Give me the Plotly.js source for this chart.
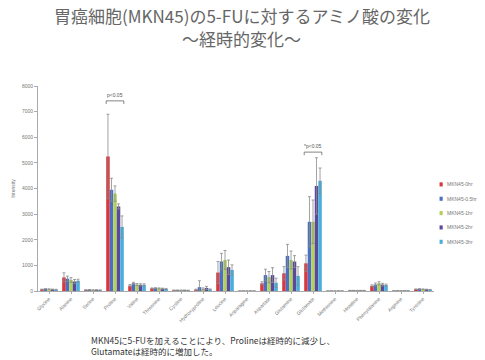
<!DOCTYPE html>
<html>
<head>
<meta charset="utf-8">
<script src="https://cdn.plot.ly/plotly-3.0.1.min.js"></script>
<style>html,body{margin:0;padding:0;background:#fff;}#chart{width:485px;height:360px;}</style>
</head>
<body>
<div id="chart"></div>
<script>
const categories = ["Glycine","Alanine","Serine","Proline","Valine","Threonine","Cystine","Hydroxyproline","Leucine","Asparagine","Aspartate","Glutamine","Glutamate","Methionine","Histidine","Phenylalanine","Arginine","Tyrosine"];
const seriesNames = ["MKN45-0hr","MKN45-0.5hr","MKN45-1hr","MKN45-2hr","MKN45-3hr"];
const hr0   = [60, 530, 40, 5250, 210, 100, 30, 50, 720, 5, 300, 690, 1080, 5, 20, 200, 10, 70];
const hr05  = [80, 480, 45, 3950, 300, 110, 30, 150, 1150, 5, 620, 1370, 2700, 5, 20, 250, 10, 80];
const hr1   = [70, 430, 40, 3800, 250, 100, 30, 80, 1210, 5, 540, 1210, 2700, 5, 20, 300, 10, 70];
const hr2   = [60, 370, 40, 3300, 240, 90, 30, 120, 930, 5, 620, 1150, 4100, 5, 20, 250, 10, 60];
const hr3   = [50, 400, 35, 2500, 240, 80, 25, 60, 820, 5, 320, 590, 4300, 5, 20, 230, 10, 50];
const err0  = [15, 180, 10, 1650, 40, 20, 5, 20, 430, 2, 60, 260, 320, 2, 5, 40, 3, 10];
const err05 = [15, 100, 10, 450, 40, 20, 5, 250, 320, 2, 230, 450, 980, 2, 5, 60, 3, 10];
const err1  = [15, 90, 10, 300, 40, 20, 5, 40, 370, 2, 220, 350, 850, 2, 5, 60, 3, 10];
const err2  = [15, 80, 10, 100, 40, 20, 5, 60, 280, 2, 290, 230, 1100, 2, 5, 50, 3, 10];
const err3  = [15, 60, 10, 430, 40, 20, 5, 20, 200, 2, 180, 360, 500, 2, 5, 40, 3, 10];
const yTicks = [0,1000,2000,3000,4000,5000,6000,7000,8000];

const colors = ["#d8383c","#4a6fc4","#b3d05a","#5a4a9c","#49aedc"];
const vals = [hr0, hr05, hr1, hr2, hr3];
const errs = [err0, err05, err1, err2, err3];

const traces = vals.map((v,i)=>({
  type:'bar', name:seriesNames[i], x:categories, y:v, showlegend:false,
  marker:{color:colors[i]},
  error_y:{type:'data', array:errs[i], visible:true, color:'#8a8a8a', thickness:0.8, width:1.5}
}));

const gray = '#777';
// custom compact legend (paper coordinates)
const legX = 1.014, legTop = 0.52, legStep = 0.07;
const legendShapes = seriesNames.map((n,i)=>({
  type:'rect', xref:'paper', yref:'paper',
  x0:legX, x1:legX+0.008, y0:legTop-i*legStep-0.01, y1:legTop-i*legStep+0.01,
  fillcolor:colors[i], line:{width:0}
}));
const legendTexts = seriesNames.map((n,i)=>({
  xref:'paper', yref:'paper', x:legX+0.014, y:legTop-i*legStep, xanchor:'left', yanchor:'middle',
  text:n, showarrow:false, font:{size:5, color:gray}
}));

const layout = {
  width:485, height:360,
  margin:{l:38, r:51, t:86, b:69},
  paper_bgcolor:'#fff', plot_bgcolor:'#fff',
  font:{family:'Liberation Sans, Arial, sans-serif', size:5, color:gray},
  barmode:'group', bargap:0.2, bargroupgap:0,
  showlegend:false,
  xaxis:{type:'category', tickangle:-45, showline:true, linecolor:'#aaa', linewidth:1, ticks:'outside', tickcolor:'#aaa', ticklen:2,
    tickfont:{size:5, color:gray}, showgrid:false, automargin:false},
  yaxis:{range:[0,8000], tickvals:yTicks, ticktext:yTicks.map(String), showline:true, linecolor:'#aaa', linewidth:1, ticks:'outside', tickcolor:'#aaa', ticklen:3,
    tickfont:{size:5, color:gray}, showgrid:false, zeroline:false, automargin:false,
    title:{text:'Intensity', font:{size:5, color:gray}, standoff:6}},
  shapes:[
    {type:'path', xref:'x', yref:'y', path:'M 2.6,7300 L 2.6,7420 L 3.4,7420 L 3.4,7300', line:{color:'#666', width:0.8}},
    {type:'path', xref:'x', yref:'y', path:'M 11.6,5300 L 11.6,5420 L 12.4,5420 L 12.4,5300', line:{color:'#666', width:0.8}}
  ].concat(legendShapes),
  annotations:[
    {xref:'paper', yref:'paper', x:0.515, y:1.342, xanchor:'center', yanchor:'middle', showarrow:false,
      text:'胃癌細胞(MKN45)の5-FUに対するアミノ酸の変化', font:{family:'Noto Sans CJK JP', size:17, color:'#666'}},
    {xref:'paper', yref:'paper', x:0.515, y:1.232, xanchor:'center', yanchor:'middle', showarrow:false,
      text:'～経時的変化～', font:{family:'Noto Sans CJK JP', size:17, color:'#666'}},
    {xref:'x', yref:'y', x:3, y:7450, text:'p<0.05', showarrow:false, yanchor:'bottom', font:{size:5, color:'#555'}},
    {xref:'x', yref:'y', x:12, y:5450, text:'*p<0.05', showarrow:false, yanchor:'bottom', font:{size:5, color:'#555'}},
    {xref:'paper', yref:'paper', x:0.13, y:-0.2, xanchor:'left', yanchor:'top', align:'left', showarrow:false,
      text:'MKN45に5-FUを加えることにより、Prolineは経時的に減少し、<br>Glutamateは経時的に増加した。',
      font:{family:'Noto Sans CJK JP', size:8.5, color:'#333'}}
  ].concat(legendTexts)
};
Plotly.newPlot('chart', traces, layout, {displayModeBar:false, staticPlot:true});
</script>
</body>
</html>
